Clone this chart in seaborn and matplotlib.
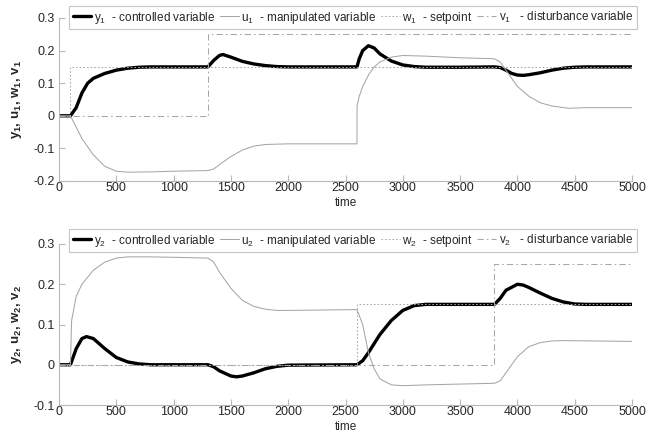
import matplotlib
matplotlib.use("Agg")
import matplotlib.pyplot as plt
import seaborn as sns

sns.set_style("white")
plt.rcParams["font.family"] = ["Liberation Sans", "DejaVu Sans"]
plt.rcParams["mathtext.fontset"] = "custom"
plt.rcParams["mathtext.rm"] = "Liberation Sans"
plt.rcParams["mathtext.it"] = "Liberation Sans"
plt.rcParams["mathtext.bf"] = "Liberation Sans:bold"

# ---- loop 1 ----
t_y1 = [0, 100, 150, 200, 250, 300, 400, 500, 600, 700, 800, 1300, 1350, 1400, 1430,
        1500, 1600, 1700, 1800, 1900, 2000, 2600, 2620, 2650, 2700, 2750, 2800, 2900,
        3000, 3100, 3200, 3500, 3800, 3850, 3900, 3950, 4000, 4050, 4100, 4200, 4300,
        4400, 4500, 4600, 5000]
y1 = [0, 0, 0.025, 0.07, 0.1, 0.115, 0.13, 0.14, 0.146, 0.149, 0.15, 0.15, 0.17, 0.185,
      0.188, 0.18, 0.167, 0.159, 0.154, 0.151, 0.15, 0.15, 0.175, 0.2, 0.215, 0.208,
      0.19, 0.168, 0.156, 0.151, 0.149, 0.149, 0.15, 0.148, 0.14, 0.13, 0.125, 0.124,
      0.126, 0.132, 0.14, 0.146, 0.149, 0.15, 0.15]

t_u1 = [0, 100, 150, 200, 300, 400, 500, 600, 800, 1000, 1300, 1350, 1400, 1500, 1600,
        1700, 1800, 2000, 2600, 2601, 2620, 2650, 2700, 2750, 2800, 2900, 3000, 3200,
        3500, 3800, 3850, 3900, 4000, 4100, 4200, 4300, 4450, 4600, 5000]
u1 = [0, 0, -0.035, -0.07, -0.12, -0.155, -0.17, -0.173, -0.172, -0.17, -0.168, -0.163,
      -0.15, -0.125, -0.105, -0.093, -0.088, -0.086, -0.086, 0.03, 0.06, 0.09, 0.125,
      0.15, 0.165, 0.18, 0.185, 0.183, 0.178, 0.175, 0.165, 0.14, 0.09, 0.06, 0.04,
      0.03, 0.023, 0.025, 0.025]

t_w1 = [0, 100, 100, 5000]
w1 = [0, 0, 0.15, 0.15]
t_v1 = [0, 1300, 1300, 5000]
v1 = [0, 0, 0.25, 0.25]

# ---- loop 2 ----
t_y2 = [0, 100, 150, 200, 240, 300, 400, 500, 600, 700, 800, 1300, 1350, 1400, 1500,
        1550, 1600, 1700, 1800, 1900, 2000, 2600, 2650, 2700, 2800, 2900, 3000, 3100,
        3200, 3500, 3800, 3850, 3900, 4000, 4050, 4100, 4200, 4300, 4400, 4500, 4600, 5000]
y2 = [0, 0, 0.04, 0.065, 0.07, 0.065, 0.04, 0.018, 0.007, 0.002, 0, 0, -0.005, -0.015,
      -0.028, -0.03, -0.028, -0.02, -0.01, -0.004, -0.001, 0, 0.01, 0.03, 0.075, 0.11,
      0.135, 0.147, 0.15, 0.15, 0.15, 0.165, 0.185, 0.2, 0.198, 0.192, 0.178, 0.165,
      0.156, 0.151, 0.15, 0.15]

t_u2 = [0, 100, 110, 150, 200, 300, 400, 500, 600, 800, 1000, 1300, 1350, 1400, 1500,
        1600, 1700, 1800, 1900, 2000, 2600, 2650, 2700, 2750, 2800, 2900, 3000, 3200,
        3500, 3800, 3850, 3900, 4000, 4100, 4200, 4300, 4400, 5000]
u2 = [0, 0, 0.11, 0.17, 0.2, 0.235, 0.255, 0.265, 0.268, 0.268, 0.267, 0.265, 0.255,
      0.23, 0.19, 0.16, 0.145, 0.138, 0.135, 0.135, 0.137, 0.1, 0.03, -0.01, -0.035,
      -0.05, -0.052, -0.05, -0.048, -0.046, -0.04, -0.02, 0.02, 0.045, 0.055, 0.059,
      0.06, 0.058]

t_w2 = [0, 2600, 2600, 5000]
w2 = [0, 0, 0.15, 0.15]
t_v2 = [0, 3800, 3800, 5000]
v2 = [0, 0, 0.25, 0.25]

x_ticks = list(range(0, 5001, 500))
y_ticks_top = [-0.2, -0.1, 0, 0.1, 0.2, 0.3]
y_ticks_bot = [-0.1, 0, 0.1, 0.2, 0.3]

GREY = "#a6a6a6"
SPINE = "#b8b8b8"

fig = plt.figure(figsize=(6.57, 4.32), dpi=100)
ax1 = fig.add_axes([59 / 657, 1 - 181 / 432, (632 - 59) / 657, (181 - 18) / 432])
ax2 = fig.add_axes([59 / 657, 1 - 405 / 432, (632 - 59) / 657, (405 - 244) / 432])


def tick_fmt(v):
    return "0" if abs(v) < 1e-9 else f"{v:g}"


def draw(ax, idx, ty, y, tu, u, tw, w, tv, v, yticks, legend_top):
    common = dict(ax=ax, sort=False, estimator=None)
    sns.lineplot(x=ty, y=y, color="black", linewidth=2.4,
                 label=rf"y$_{idx}$  - controlled variable", **common)
    sns.lineplot(x=tu, y=u, color=GREY, linewidth=0.75,
                 label=rf"u$_{idx}$  - manipulated variable", **common)
    sns.lineplot(x=tw, y=w, color=GREY, linewidth=0.75, linestyle=(0, (1.5, 2)),
                 label=rf"w$_{idx}$  - setpoint", **common)
    sns.lineplot(x=tv, y=v, color=GREY, linewidth=0.75,
                 linestyle=(0, (6, 3, 1.5, 3)),
                 label=rf"v$_{idx}$   - disturbance variable", **common)
    ax.set_xlim(0, 5000)
    ax.set_ylim(yticks[0], yticks[-1])
    ax.set_xticks(x_ticks)
    ax.set_xticklabels([str(x) for x in x_ticks])
    ax.set_yticks(yticks)
    ax.set_yticklabels([tick_fmt(v) for v in yticks])
    for s in ["top", "right"]:
        ax.spines[s].set_visible(False)
    for s in ["left", "bottom"]:
        ax.spines[s].set_color(SPINE)
        ax.spines[s].set_linewidth(0.8)
    ax.tick_params(direction="in", length=4, width=0.8, color=SPINE,
                   labelsize=9, left=True, bottom=True)
    ax.tick_params(axis="x", pad=1)
    ax.tick_params(axis="y", pad=3)
    ax.set_xlabel("time", fontsize=8.5, labelpad=2)
    ax.set_ylabel(rf"$\mathbf{{y_{idx}}}$, $\mathbf{{u_{idx}}}$, "
                  rf"$\mathbf{{w_{idx}}}$, $\mathbf{{v_{idx}}}$",
                  fontsize=9.5, fontweight="bold", labelpad=7)
    leg = ax.legend(loc="upper left", ncol=4, fontsize=8.5,
                    bbox_to_anchor=(69 / 657, 1 - legend_top / 432),
                    bbox_transform=fig.transFigure, frameon=True, fancybox=False,
                    handlelength=1.6, handletextpad=0.2, columnspacing=0.4,
                    borderpad=0.3, borderaxespad=0)
    leg.get_frame().set_edgecolor(SPINE)
    leg.get_frame().set_linewidth(0.8)


draw(ax1, 1, t_y1, y1, t_u1, u1, t_w1, w1, t_v1, v1, y_ticks_top, 6)
draw(ax2, 2, t_y2, y2, t_u2, u2, t_w2, w2, t_v2, v2, y_ticks_bot, 229)

fig.savefig("out.png", dpi=100)
